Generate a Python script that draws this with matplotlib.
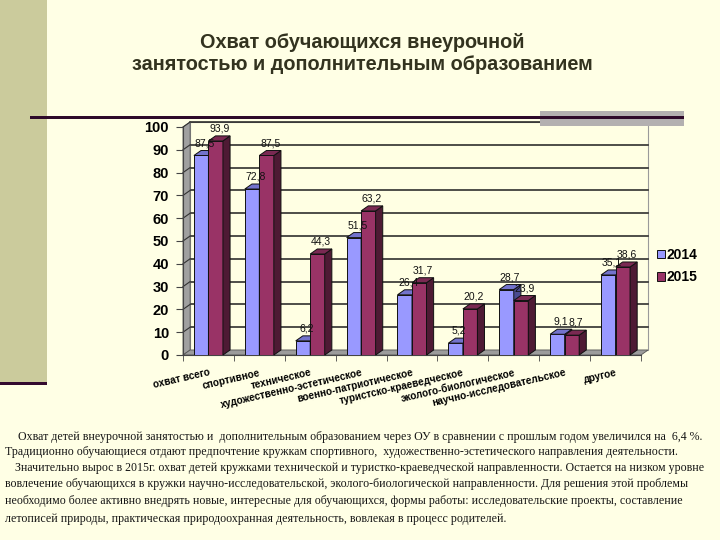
import matplotlib
matplotlib.use("Agg")
import matplotlib.pyplot as plt
from matplotlib.patches import Rectangle, Polygon, Patch

# ---- data ----
categories = ["охват всего", "спортивное", "техническое",
              "художественно-эстетическое", "военно-патриотическое",
              "туристско-краеведческое", "эколого-биологическое",
              "научно-исследовательское", "другое"]
vals_2014 = [87.5, 72.8, 6.2, 51.5, 26.4, 5.2, 28.7, 9.1, 35.1]
vals_2015 = [93.9, 87.5, 44.3, 63.2, 31.7, 20.2, 23.9, 8.7, 38.6]
series_names = ["2014", "2015"]
yticks = list(range(0, 101, 10))

title = "Охват обучающихся внеурочной\nзанятостью и дополнительным образованием"
note_lines = [
    "Охват детей внеурочной занятостью и  дополнительным образованием через ОУ в сравнении с прошлым годом увеличился на  6,4 %.",
    "Традиционно обучающиеся отдают предпочтение кружкам спортивного,  художественно-эстетического направления деятельности.",
    "Значительно вырос в 2015г. охват детей кружками технической и туристко-краеведческой направленности. Остается на низком уровне",
    "вовлечение обучающихся в кружки научно-исследовательской, эколого-биологической направленности. Для решения этой проблемы",
    "необходимо более активно внедрять новые, интересные для обучающихся, формы работы: исследовательские проекты, составление",
    "летописей природы, практическая природоохранная деятельность, вовлекая в процесс родителей.",
]

BG = "#FFFFE5"
W, H = 720, 540

def fx(x):
    return x / W

def fy(y):
    return 1 - y / H

fig = plt.figure(figsize=(7.2, 5.4), dpi=100, facecolor=BG)

# ---- slide decorations ----
fig.patches.append(Rectangle((0, fy(382)), fx(47), 382 / H, transform=fig.transFigure,
                             facecolor="#CBCB9C", edgecolor="none", zorder=0))
fig.patches.append(Rectangle((0, fy(385)), fx(47), 3 / H, transform=fig.transFigure,
                             facecolor="#330A2E", edgecolor="none", zorder=1))
fig.patches.append(Rectangle((fx(540), fy(126)), fx(144), 15 / H, transform=fig.transFigure,
                             facecolor="#B3B0B0", edgecolor="none", zorder=0))
fig.patches.append(Rectangle((fx(30), fy(119)), fx(654), 2.5 / H, transform=fig.transFigure,
                             facecolor="#2E0A2A", edgecolor="none", zorder=1))

fig.text(fx(362), fy(54), title, ha="center", va="center", fontsize=14.3,
         fontweight="bold", family="Liberation Sans", color="#33331F", linespacing=1.2)

# ---- chart ----
ax = fig.add_axes([fx(183), fy(355), fx(458), 228 / H])
ax.set_facecolor("none")
n = len(categories)
ax.set_xlim(0, n)
ax.set_ylim(0, 100)
dx, dy = 0.14, 2.2      # 3D depth offset in data units
bw = 0.285

# back wall, left wall, floor
ax.add_patch(Rectangle((dx, dy), n, 100, facecolor="#FFFFE3", edgecolor="#9a9a9a",
                       lw=0.8, zorder=0, clip_on=False))
ax.add_patch(Polygon([(0, 0), (dx, dy), (dx, 100 + dy), (0, 100)], closed=True,
                     facecolor="#A0A0A0", edgecolor="#555555", lw=0.6, zorder=1, clip_on=False))
ax.add_patch(Polygon([(0, 0), (n, 0), (n + dx, dy), (dx, dy)], closed=True,
                     facecolor="#9C9C9C", edgecolor="#555555", lw=0.6, zorder=1, clip_on=False))
for v in yticks[1:]:
    ax.plot([dx, n + dx], [v + dy, v + dy], color="#1e1e1e", lw=1.1, zorder=0.5, clip_on=False)
    ax.plot([0, dx], [v, v + dy], color="#333333", lw=0.8, zorder=1.5, clip_on=False)

colors = [("#9999FF", "#7373CC", "#4A4A90"), ("#993366", "#7A2952", "#4E1A34")]
for s, vals in enumerate([vals_2014, vals_2015]):
    front, top, side = colors[s]
    for i, v in enumerate(vals):
        x0 = i + 0.5 - bw + s * bw
        x1 = x0 + bw
        z = 3 + s
        ax.bar(x0, v, width=bw, align="edge", color=front, edgecolor="#111111",
               lw=0.7, zorder=z)
        ax.add_patch(Polygon([(x1, 0), (x1 + dx, dy), (x1 + dx, v + dy), (x1, v)], closed=True,
                             facecolor=side, edgecolor="#111111", lw=0.7, zorder=z, clip_on=False))
        ax.add_patch(Polygon([(x0, v), (x0 + dx, v + dy), (x1 + dx, v + dy), (x1, v)], closed=True,
                             facecolor=top, edgecolor="#111111", lw=0.7, zorder=z, clip_on=False))
        ax.text(x0 + bw / 2 + dx / 2, v + dy + 1.0, f"{v:.1f}".replace(".", ","),
                ha="center", va="bottom", fontsize=7.5, family="Liberation Sans",
                color="#111111", zorder=10, clip_on=False)

for sp in ["top", "right"]:
    ax.spines[sp].set_visible(False)
ax.spines["left"].set_color("#444444")
ax.spines["bottom"].set_color("#444444")
ax.spines["left"].set_zorder(2)
ax.spines["bottom"].set_zorder(2)

ax.set_yticks(yticks)
ax.set_yticklabels([str(t) for t in yticks], fontsize=10.5, fontweight="bold",
                   family="Liberation Sans")
ax.tick_params(axis="y", length=5, color="#444444", pad=5)

ax.set_xticks([i + 0.5 for i in range(n)])
ax.set_xticklabels(categories, fontsize=7.2, fontweight="bold", family="Liberation Sans",
                   rotation=13, ha="right", rotation_mode="anchor")
ax.set_xticks(range(n + 1), minor=True)
ax.tick_params(axis="x", which="major", length=0, pad=9)
ax.tick_params(axis="x", which="minor", length=4, color="#444444")

handles = [Patch(facecolor=colors[0][0], edgecolor="#111111", lw=0.7),
           Patch(facecolor=colors[1][0], edgecolor="#111111", lw=0.7)]
fig.legend(handles, series_names, loc="center left", bbox_to_anchor=(fx(644), fy(266)),
           frameon=False, handlelength=0.6, handleheight=0.6, handletextpad=0.1,
           labelspacing=0.6, prop={"family": "Liberation Sans", "weight": "bold", "size": 10})

# ---- note text ----
note_y = [437, 452, 468, 484, 501, 519]
note_x = [18, 5, 15, 5, 5, 5]
for x, y, line in zip(note_x, note_y, note_lines):
    fig.text(fx(x), fy(y), line, ha="left", va="center", fontsize=8.6,
             family="Liberation Serif", color="#151515")

fig.savefig("out.png", dpi=100, facecolor=BG)
